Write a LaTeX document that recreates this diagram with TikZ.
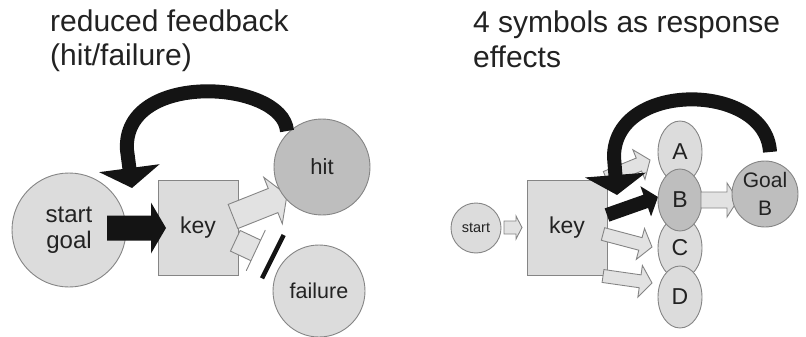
\documentclass[tikz,border=0pt]{standalone}
\usepackage{fontspec}
\setmainfont{Liberation Sans}
\usepackage{xcolor}
\usepackage{tikz}
\usetikzlibrary{arrows.meta, shapes.geometric}

\definecolor{boxgray}{HTML}{DCDCDC}
\definecolor{nodegray}{HTML}{BEBEBE}
\definecolor{arrowgray}{HTML}{E2E2E2}
\definecolor{edgegray}{HTML}{858585}
\definecolor{inkblack}{HTML}{141414}
\definecolor{textgray}{HTML}{222222}

% block arrow: [style]{tail}{tip}{half shaft}{half head}{head length}
\newcommand\blockarrow[6][]{%
  \pgfpointdiff{\pgfpointanchor{#2}{center}}{\pgfpointanchor{#3}{center}}%
  \pgfgetlastxy{\arrDX}{\arrDY}%
  \pgfmathsetmacro\arrAng{atan2(\arrDY,\arrDX)}%
  \pgfmathsetmacro\arrLen{veclen(\arrDX,\arrDY)}%
  \pgfmathsetmacro\arrBase{\arrLen-#6}%
  \begin{scope}[shift={(#2)}, rotate=\arrAng]
    \path[#1] (0pt,-#4pt) -- (\arrBase pt,-#4pt) -- (\arrBase pt,-#5pt)
      -- (\arrLen pt,0pt) -- (\arrBase pt,#5pt) -- (\arrBase pt,#4pt)
      -- (0pt,#4pt) -- cycle;
  \end{scope}}

\begin{document}
\begin{tikzpicture}[x=1pt, y=-1pt,
    title/.style={anchor=base west, inner sep=0pt, text=textgray,
      font=\fontsize{30}{34}\selectfont},
    keybox/.style={draw=edgegray, fill=boxgray, line width=0.9pt,
      minimum width=80pt, minimum height=95pt, inner sep=0pt, text=textgray,
      font=\fontsize{23}{26}\selectfont},
    bubble/.style={circle, draw=edgegray, fill=boxgray, line width=0.9pt,
      inner sep=0pt, align=center, text=textgray},
    oval/.style={ellipse, draw=edgegray, fill=boxgray, line width=0.9pt,
      minimum width=44pt, minimum height=62pt, inner sep=0pt, text=textgray,
      font=\fontsize{23}{26}\selectfont},
    lightarrow/.style={draw=edgegray, fill=arrowgray, line width=0.9pt},
    blackarrow/.style={fill=inkblack},
    curvearrow/.style={draw=inkblack, line width=14pt,
      -{Triangle[length=20pt, width=60pt]}}]
  \useasboundingbox (0,0) rectangle (806,337);

  % --- titles
  \node[title] (titleLa) at (50,32) {reduced feedback};
  \node[title] (titleLb) at (50,66) {(hit/failure)};
  \node[title] (titleRa) at (473,33) {4 symbols as response};
  \node[title] (titleRb) at (473,67) {effects};

  % --- left: reduced feedback
  \node[keybox] (keyL) at (198,227.5) {key};
  \node[bubble, minimum size=114pt, font=\fontsize{24}{26}\selectfont] (startL) at (69,230) {start\\goal};

  \coordinate (arSGt) at (107,228);
  \coordinate (arSGh) at (166,228);
  \blockarrow[blackarrow]{arSGt}{arSGh}{12.5}{25.5}{15}
  \coordinate (arHitT) at (233,216.5);
  \coordinate (arHitH) at (287,195);
  \blockarrow[lightarrow]{arHitT}{arHitH}{13}{25}{15}
  \coordinate (arFailT) at (235.3,240.8);
  \coordinate (arFailH) at (255.8,250.4);
  \blockarrow[lightarrow]{arFailT}{arFailH}{11.4}{22.5}{0}

  % blocked path
  \coordinate (barTop) at (283.7,235);
  \coordinate (barBot) at (262,278.3);
  \draw[inkblack, line width=4.5pt] (barTop) -- (barBot);

  \node[bubble, fill=nodegray, minimum size=96pt, font=\fontsize{22}{24}\selectfont] (hit) at (322,167) {hit};
  \node[bubble, minimum size=92pt, font=\fontsize{21.5}{24}\selectfont] (failure) at (319,291) {failure};

  \coordinate (loopLt) at (287,131);
  \coordinate (loopLb) at (127,150);
  \coordinate (loopLh) at (132,188);
  \draw[curvearrow] (loopLt) .. controls (283,80) and (122,70) .. (loopLb) -- (loopLh);

  % --- right: 4 symbols
  \node[bubble, minimum size=50pt, font=\fontsize{14.5}{16}\selectfont] (startR) at (476,228) {start};
  \node[keybox] (keyR) at (567,227.5) {key};

  \coordinate (arStT) at (504,227.5);
  \coordinate (arStH) at (522,227.5);
  \blockarrow[lightarrow]{arStT}{arStH}{6.5}{11.5}{6}
  \coordinate (arAt) at (606,178);
  \coordinate (arAh) at (650,160);
  \blockarrow[lightarrow]{arAt}{arAh}{7}{16}{12}
  \coordinate (arBt) at (607,215);
  \coordinate (arBh) at (658,197);
  \blockarrow[blackarrow]{arBt}{arBh}{7}{16}{13}
  \coordinate (arCt) at (603,234);
  \coordinate (arCh) at (652,247);
  \blockarrow[lightarrow]{arCt}{arCh}{6.5}{16}{12}
  \coordinate (arDt) at (603,276);
  \coordinate (arDh) at (652,283);
  \blockarrow[lightarrow]{arDt}{arDh}{6.5}{16}{12}

  \node[oval] (symA) at (680,152) {A};
  \node[oval] (symC) at (680,248) {C};
  \node[oval] (symD) at (680,297) {D};
  \node[oval, fill=nodegray] (symB) at (680,200) {B};

  \coordinate (arGt) at (701,200);
  \coordinate (arGh) at (738,200);
  \blockarrow[lightarrow]{arGt}{arGh}{8}{17}{11}
  \node[bubble, fill=nodegray, minimum size=66pt, font=\fontsize{21}{28}\selectfont] (goalB) at (765,194) {Goal\\B};

  \coordinate (loopRt) at (770,152);
  \coordinate (loopRb) at (614,157);
  \coordinate (loopRh) at (617,195);
  \draw[curvearrow] (loopRt) .. controls (766,82) and (614,80) .. (loopRb) -- (loopRh);
\end{tikzpicture}
\end{document}
